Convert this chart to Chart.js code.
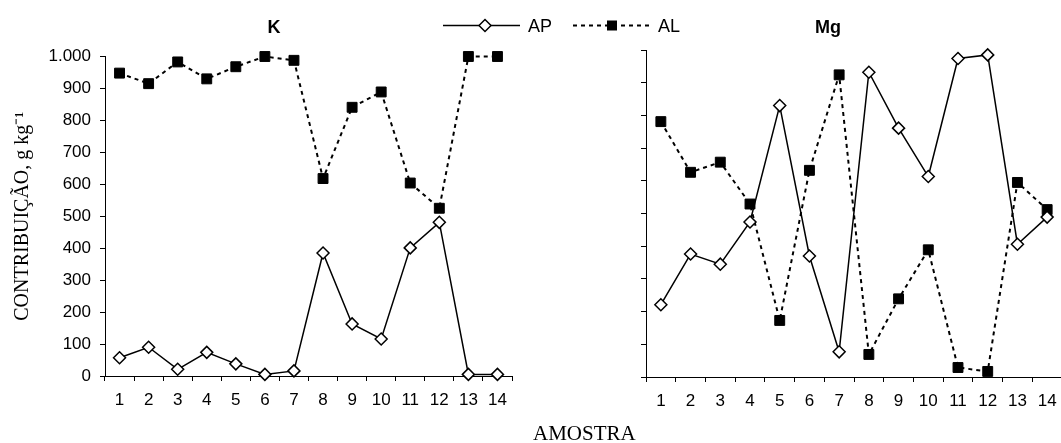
<!DOCTYPE html>
<html lang="pt">
<head>
  <meta charset="UTF-8" />
  <title>Contribuição AP / AL – K e Mg</title>
  <script src="https://cdn.jsdelivr.net/npm/chart.js"></script>
  <style>
    html, body { margin: 0; padding: 0; background: #fff; }
    #wrap { position: relative; width: 1061px; height: 443px; overflow: hidden; }
    .panel { position: absolute; top: 0; height: 443px; }
    #panelK { left: 0; width: 525px; }
    #panelMg { left: 530px; width: 560px; }
    #legend { position: absolute; left: 0; top: 0; }
    .ptitle { position: absolute; top: 18px; width: 100px; text-align: center; font: bold 18px "Liberation Sans", Arial, sans-serif; line-height: 18px; color: #000; }
    #titleK { left: 224px; }
    #titleMg { left: 778px; }
    #xTitle { position: absolute; left: 533px; top: 423px; font: 21px "Liberation Serif", "Times New Roman", serif; line-height: 20px; color: #000; }
  </style>
</head>
<body>
  <div id="wrap">
    <div class="panel" id="panelK"><canvas id="chartK"></canvas></div>
    <div class="panel" id="panelMg"><canvas id="chartMg"></canvas></div>
    <div class="ptitle" id="titleK">K</div>
    <div class="ptitle" id="titleMg">Mg</div>
    <!-- legenda comum aos dois painéis -->
    <svg id="legend" width="700" height="40">
      <line x1="443" y1="25.5" x2="520" y2="25.5" stroke="#000" stroke-width="1.5"/>
      <polygon points="479,25.5 485,19.5 491,25.5 485,31.5" fill="#fff" stroke="#000" stroke-width="1.5"/>
      <text x="528" y="32" font-family="Liberation Sans, Arial, sans-serif" font-size="18">AP</text>
      <line x1="573" y1="25.5" x2="650" y2="25.5" stroke="#000" stroke-width="2" stroke-dasharray="4,4"/>
      <rect x="607" y="20.5" width="10" height="10" fill="#000"/>
      <text x="658" y="32" font-family="Liberation Sans, Arial, sans-serif" font-size="18">AL</text>
    </svg>
    <div id="xTitle">AMOSTRA</div>
  </div>

  <script>
    const amostras = ['1','2','3','4','5','6','7','8','9','10','11','12','13','14'];

    // K
    const kAP = [57, 90, 21, 74, 38, 5, 16, 385, 163, 116, 401, 481, 5, 5];
    const kAL = [948, 915, 983, 930, 968, 1000, 988, 618, 841, 889, 604, 525, 1000, 1000];

    // Mg
    const mgAP = [221, 376, 345, 474, 830, 370, 77, 932, 761, 613, 974, 985, 406, 489];
    const mgAL = [781, 626, 657, 529, 173, 632, 924, 69, 239, 389, 29, 17, 595, 512];

    const yTicks = { min: 0, max: 1000, step: 100 };

    const SANS = '"Liberation Sans", Arial, sans-serif';
    const SERIF = '"Liberation Serif", "Times New Roman", serif';

    Chart.defaults.color = '#000';
    Chart.defaults.font.family = SANS;
    Chart.defaults.animation = false;

    function fmt(v) {
      return v >= 1000 ? '1.000' : String(v);
    }

    function datasets(ap, al) {
      return [
        {
          label: 'AP', data: ap,
          borderColor: '#000', borderWidth: 1.5,
          pointStyle: 'rectRot', pointRadius: 6,
          pointBackgroundColor: '#fff', pointBorderColor: '#000', pointBorderWidth: 1.5,
          tension: 0, clip: false
        },
        {
          label: 'AL', data: al,
          borderColor: '#000', borderWidth: 2, borderDash: [4, 4],
          pointStyle: 'rect', pointRadius: 7,
          pointBackgroundColor: '#000', pointBorderColor: '#000', pointBorderWidth: 1,
          tension: 0, clip: false
        }
      ];
    }

    function makeChart(id, ap, al, opts) {
      return new Chart(document.getElementById(id), {
        type: 'line',
        data: { labels: amostras, datasets: datasets(ap, al) },
        options: {
          responsive: true,
          maintainAspectRatio: false,
          layout: { padding: { left: 0, right: opts.padRight, top: opts.padTop, bottom: opts.padBottom } },
          plugins: {
            legend: { display: false },
            tooltip: { enabled: false },
            title: { display: false }
          },
          scales: {
            x: {
              type: 'category',
              offset: true,
              border: { color: '#000', width: 1 },
              grid: { offset: true, drawOnChartArea: false, drawTicks: true, tickLength: 5, color: '#000' },
              ticks: { font: { size: 17 }, color: '#000', padding: 9, maxRotation: 0, autoSkip: false },
              afterFit: s => { s.height = 40; s.paddingLeft = 0; s.paddingRight = 0; }
            },
            y: {
              min: yTicks.min, max: yTicks.max,
              border: { color: '#000', width: 1 },
              grid: { drawOnChartArea: false, drawTicks: true, tickLength: 5, color: '#000' },
              ticks: {
                display: opts.showY, stepSize: yTicks.step,
                font: { size: 17 }, color: '#000', padding: 9,
                callback: v => fmt(v)
              },
              title: {
                display: opts.showY,
                text: 'CONTRIBUIÇÃO, g kg⁻¹',
                font: { family: SERIF, size: 20 },
                color: '#000',
                padding: { top: 11, bottom: 0 }
              },
              afterFit: s => { s.width = opts.yWidth; s.paddingTop = 0; s.paddingBottom = 0; }
            }
          }
        }
      });
    }

    makeChart('chartK', kAP, kAL, {
      padRight: 13, padTop: 56.5, padBottom: 27, showY: true, yWidth: 105
    });
    makeChart('chartMg', mgAP, mgAL, {
      padRight: 28, padTop: 50, padBottom: 26, showY: false, yWidth: 116
    });
  </script>
</body>
</html>
